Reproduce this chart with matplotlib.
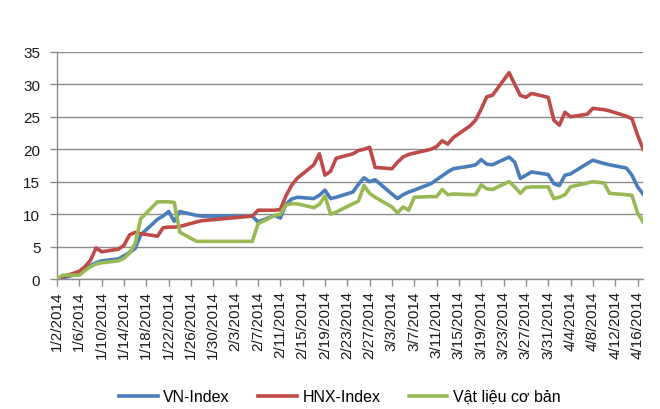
import datetime as dt
import matplotlib
matplotlib.use("Agg")
import matplotlib.pyplot as plt
import matplotlib.dates as mdates

# trading days (Tet holiday 29/1-5/2 and 9/4 closed)
dates = [
    "2014-01-02", "2014-01-03", "2014-01-06", "2014-01-07", "2014-01-08", "2014-01-09",
    "2014-01-10", "2014-01-13", "2014-01-14", "2014-01-15", "2014-01-16", "2014-01-17",
    "2014-01-20", "2014-01-21", "2014-01-22", "2014-01-23", "2014-01-24", "2014-01-27",
    "2014-01-28", "2014-02-06", "2014-02-07", "2014-02-10", "2014-02-11", "2014-02-12",
    "2014-02-13", "2014-02-14", "2014-02-17", "2014-02-18", "2014-02-19", "2014-02-20",
    "2014-02-21", "2014-02-24", "2014-02-25", "2014-02-26", "2014-02-27", "2014-02-28",
    "2014-03-03", "2014-03-04", "2014-03-05", "2014-03-06", "2014-03-07", "2014-03-10",
    "2014-03-11", "2014-03-12", "2014-03-13", "2014-03-14", "2014-03-17", "2014-03-18",
    "2014-03-19", "2014-03-20", "2014-03-21", "2014-03-24", "2014-03-25", "2014-03-26",
    "2014-03-27", "2014-03-28", "2014-03-31", "2014-04-01", "2014-04-02", "2014-04-03",
    "2014-04-04", "2014-04-07", "2014-04-08", "2014-04-10", "2014-04-11", "2014-04-14",
    "2014-04-15", "2014-04-16", "2014-04-17",
]

vn_index = [
    0.0, 0.2, 0.8, 1.5, 2.1, 2.5, 2.8, 3.1, 3.6, 4.1, 4.7, 6.8,
    9.2, 9.7, 10.4, 8.9, 10.4, 9.8, 9.7, 9.7, 8.8, 9.8, 9.4, 11.5,
    12.3, 12.6, 12.4, 12.9, 13.7, 12.4, 12.6, 13.4, 14.6, 15.6, 15.0, 15.3,
    13.1, 12.4, 13.0, 13.4, 13.7, 14.7, 15.3, 15.9, 16.5, 17.0, 17.4, 17.6,
    18.4, 17.7, 17.6, 18.8, 18.0, 15.5, 16.0, 16.5, 16.1, 14.7, 14.4, 16.0,
    16.2, 17.8, 18.3, 17.8, 17.6, 17.1, 16.0, 14.2, 13.1,
]

hnx_index = [
    0.0, 0.3, 1.2, 1.9, 2.9, 4.8, 4.2, 4.6, 5.2, 6.8, 7.2, 7.0,
    6.6, 7.9, 8.0, 8.0, 8.1, 8.8, 9.0, 9.7, 10.6, 10.6, 10.7, 12.8,
    14.4, 15.5, 17.6, 19.3, 16.0, 16.6, 18.6, 19.3, 19.8, 20.0, 20.3, 17.2,
    17.0, 18.0, 18.8, 19.2, 19.4, 20.0, 20.4, 21.3, 20.8, 21.8, 23.6, 24.5,
    26.2, 28.1, 28.3, 31.8, 30.0, 28.3, 28.0, 28.6, 28.0, 24.5, 23.7, 25.7,
    25.0, 25.4, 26.3, 26.1, 25.9, 25.1, 24.7, 22.2, 20.0,
]

vat_lieu = [
    0.0, 0.6, 0.6, 1.3, 1.9, 2.3, 2.5, 2.8, 3.2, 4.0, 5.5, 9.3,
    11.9, 11.9, 11.9, 11.8, 7.2, 5.8, 5.8, 5.8, 8.5, 9.8, 10.0, 11.4,
    11.6, 11.6, 11.0, 11.5, 12.8, 10.0, 10.3, 11.6, 12.0, 14.4, 13.2, 12.6,
    11.1, 10.2, 11.1, 10.6, 12.6, 12.7, 12.7, 13.8, 13.0, 13.1, 13.0, 13.0,
    14.5, 13.9, 13.8, 15.0, 14.2, 13.2, 14.1, 14.2, 14.2, 12.4, 12.6, 13.0,
    14.2, 14.8, 15.0, 14.8, 13.2, 13.0, 12.9, 10.2, 8.8,
]

series_names = ["VN-Index", "HNX-Index", "Vật liệu cơ bản"]
colors = ["#4A7EBB", "#BE4B48", "#98B954"]

x = [dt.datetime.strptime(d, "%Y-%m-%d") for d in dates]

plt.rcParams["font.family"] = ["Liberation Sans", "DejaVu Sans"]

fig = plt.figure(figsize=(6.6, 4.1), dpi=100)
ax = fig.add_axes([0.0864, 0.317, 0.888, 0.554])

grid_c = "#8C8C8C"
for vals, name, c in zip([vn_index, hnx_index, vat_lieu], series_names, colors):
    ax.plot(x, vals, color=c, lw=2.6, label=name, solid_joinstyle="round", zorder=3)

ax.set_ylim(0, 35)
ax.set_yticks(range(0, 36, 5))
ax.set_xlim(x[0], x[-1])
ticks = mdates.drange(x[0], x[-1], dt.timedelta(days=4))
ax.set_xticks(ticks)
ax.set_xticklabels([f"{mdates.num2date(t).month}/{mdates.num2date(t).day}/2014" for t in ticks],
                   rotation=90)

ax.yaxis.grid(True, color=grid_c, lw=1.0)
ax.set_axisbelow(True)
for s in ["top", "right"]:
    ax.spines[s].set_visible(False)
for s in ["left", "bottom"]:
    ax.spines[s].set_color(grid_c)
    ax.spines[s].set_linewidth(1.0)
ax.tick_params(axis="both", colors=grid_c, length=5, width=1.0, labelcolor="#1A1A1A",
               labelsize=11)
ax.tick_params(axis="y", pad=7)
ax.tick_params(axis="x", pad=3)

fig.legend(loc="center", bbox_to_anchor=(0.515, 0.03), ncol=3, frameon=False,
           fontsize=11.5, handlelength=2.4, handletextpad=0.35, columnspacing=1.8)

fig.savefig("out.png", dpi=100)
